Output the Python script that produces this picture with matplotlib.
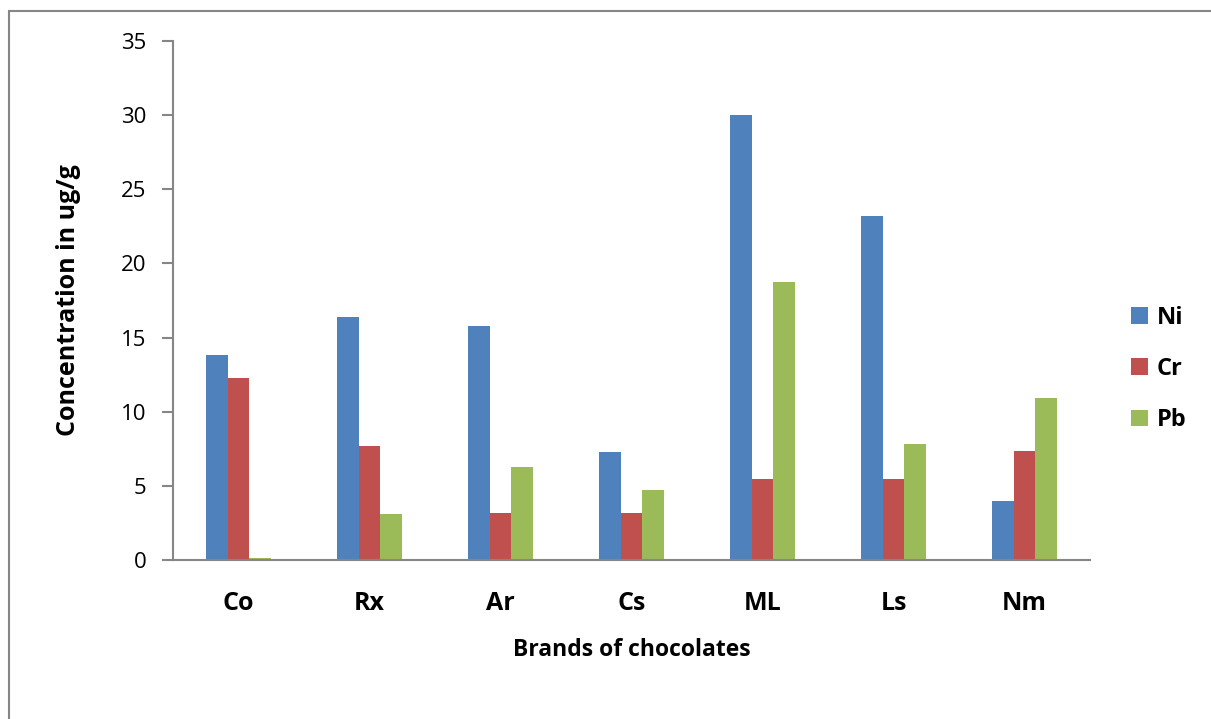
import matplotlib

matplotlib.use("Agg")
import matplotlib.pyplot as plt
import numpy as np
from matplotlib.patches import Rectangle

plt.rcParams["font.family"] = ["Open Sans", "DejaVu Sans"]

brands = ["Co", "Rx", "Ar", "Cs", "ML", "Ls", "Nm"]
metals = ["Ni", "Cr", "Pb"]
ni = [13.8, 16.4, 15.75, 7.3, 30.0, 23.2, 4.0]
cr = [12.27, 7.7, 3.17, 3.2, 5.44, 5.44, 7.37]
pb = [0.15, 3.1, 6.25, 4.72, 18.75, 7.8, 10.92]
colors = ["#4F81BD", "#C0504D", "#9BBB59"]
axis_grey = "#868686"

fig = plt.figure(figsize=(12.11, 7.19), dpi=100)
ax = fig.add_axes([0.1429, 0.2211, 0.7572, 0.7219])

x = np.arange(len(brands))
width = 1 / 6
for i, (name, vals, col) in enumerate(zip(metals, [ni, cr, pb], colors)):
    ax.bar(x + (i - 1) * width, vals, width, color=col, label=name,
           edgecolor="none")

ax.set_xlim(-0.5, len(brands) - 0.5)
ax.set_ylim(0, 35)
ax.set_yticks(range(0, 36, 5))
ax.set_xticks(x)
ax.set_xticklabels(brands, fontsize=18, fontweight="bold")
ax.tick_params(axis="x", length=0, pad=22)
ax.tick_params(axis="y", length=8, width=1.5, color=axis_grey,
               labelsize=16, pad=11)

for side in ("top", "right"):
    ax.spines[side].set_visible(False)
for side in ("left", "bottom"):
    ax.spines[side].set_color(axis_grey)
    ax.spines[side].set_linewidth(1.5)

ax.set_xlabel("Brands of chocolates", fontsize=16.5, fontweight="bold",
              labelpad=16)
ax.set_ylabel("Concentration in ug/g", fontsize=18, fontweight="bold",
              labelpad=29)

handles, labels = ax.get_legend_handles_labels()
fig.legend(handles, labels, loc="center left",
           bbox_to_anchor=(1131 / 1211, 1 - 369 / 719), frameon=False,
           prop={"size": 17, "weight": "bold"}, handlelength=0.7,
           handleheight=0.7, handletextpad=0.4, labelspacing=1.15,
           borderpad=0, borderaxespad=0)

# chart-area border (only the top and left edges fall inside the image)
fig.patches.append(Rectangle((8.5 / 1211, -0.1), 1.2, 1 - 11.5 / 719 + 0.1,
                             transform=fig.transFigure, fill=False,
                             edgecolor=axis_grey, linewidth=1.5))

fig.savefig("out.png", dpi=100)
